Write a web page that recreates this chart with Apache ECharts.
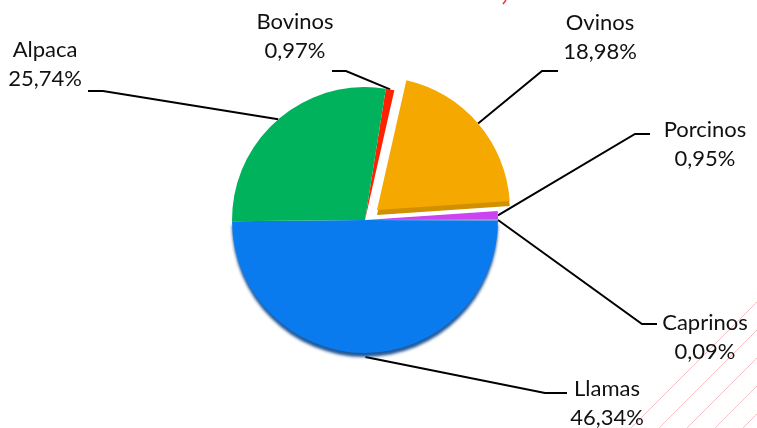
<!DOCTYPE html>
<html><head><meta charset="utf-8">
<script src="https://cdn.jsdelivr.net/npm/echarts@6/dist/echarts.min.js"></script>
<style>html,body{margin:0;padding:0;background:#fff}#c{width:757px;height:428px}</style>
</head><body><div id="c"></div>
<script>
const categories = ['Bovinos', 'Ovinos', 'Porcinos', 'Caprinos', 'Llamas', 'Alpaca'];
const values = [0.97, 18.98, 0.95, 0.09, 46.34, 25.74];
const colors = ['#ff2200', '#f5a800', '#cc44f0', '#9a9a9a', '#0a7bef', '#00b25c'];
const exploded = 'Ovinos';

// style / layout
const CX = 365, CY = 220, R = 133;
const explodeOffset = [12, -10];
const labelCenters = [[295, 36], [600, 37], [705, 144], [705, 337], [607, 403], [45, 64]];
const elbows = [[346, 71], [542, 71], [635, 134], [642, 324], [545, 393], [103, 91]];
const ends = [[332, 71], [558, 71], [650, 134], [657, 324], [567, 393], [88, 91]];

const chart = echarts.init(document.getElementById('c'), null, {renderer: 'canvas'});

const hatch = [];
[1059, 1087, 1115, 1143, 1171].forEach(c => {
  hatch.push({type: 'line', silent: true, z: -10,
    shape: {x1: c - 428, y1: 428, x2: 757, y2: c - 757},
    style: {stroke: '#f6c4c4', lineWidth: 1}});
});
hatch.push({type: 'line', silent: true, shape: {x1: 503, y1: 4, x2: 506, y2: 0}, style: {stroke: '#ee3333', lineWidth: 1.5}});

// main series: every slice except the exploded one is painted here, all labels here
const mainData = categories.map((n, i) => {
  const d = {name: n, value: values[i], itemStyle: {color: n === exploded ? 'rgba(0,0,0,0)' : colors[i]}};
  if (n === 'Llamas') {
    d.itemStyle.shadowColor = 'rgba(8,70,140,0.9)';
    d.itemStyle.shadowOffsetY = 4;
    d.itemStyle.shadowBlur = 3;
  }
  return d;
});
// exploded series: same data, only the exploded slice is painted
const explodedData = categories.map((n, i) => {
  const show = n === exploded;
  const d = {name: n, value: values[i], itemStyle: {color: show ? colors[i] : 'rgba(0,0,0,0)'}};
  if (show) {
    d.itemStyle.shadowColor = '#d09000';
    d.itemStyle.shadowOffsetY = 5;
    d.itemStyle.shadowBlur = 0;
  }
  return d;
});

chart.setOption({
  animation: false,
  backgroundColor: '#ffffff',
  graphic: hatch,
  series: [{
    type: 'pie',
    center: [CX + explodeOffset[0], CY + explodeOffset[1]],
    radius: R,
    startAngle: 81,
    clockwise: true,
    silent: true,
    emphasis: {disabled: true},
    itemStyle: {borderWidth: 0},
    label: {show: false},
    labelLine: {show: false},
    data: explodedData
  }, {
    type: 'pie',
    center: [CX, CY],
    radius: R,
    startAngle: 81,
    clockwise: true,
    avoidLabelOverlap: false,
    emphasis: {disabled: true},
    itemStyle: {borderWidth: 0},
    label: {
      show: true,
      position: 'outside',
      formatter: p => p.name + '\n' + p.value.toFixed(2).replace('.', ',') + '%',
      fontFamily: 'Lato',
      fontSize: 22,
      lineHeight: 29,
      color: '#111',
      align: 'center'
    },
    labelLine: {show: true, length: 20, length2: 10, lineStyle: {color: '#000', width: 2}},
    labelLayout: function (p) {
      const i = p.dataIndex;
      let start = (p.labelLinePoints && p.labelLinePoints[0]) || elbows[i];
      if (categories[i] === exploded) start = [start[0] + explodeOffset[0], start[1] + explodeOffset[1]];
      if (categories[i] === 'Llamas') start = [start[0], start[1] + 4];
      return {
        x: labelCenters[i][0], y: labelCenters[i][1],
        align: 'center', verticalAlign: 'middle',
        labelLinePoints: [start, elbows[i], ends[i]]
      };
    },
    data: mainData
  }]
});
</script></body></html>
